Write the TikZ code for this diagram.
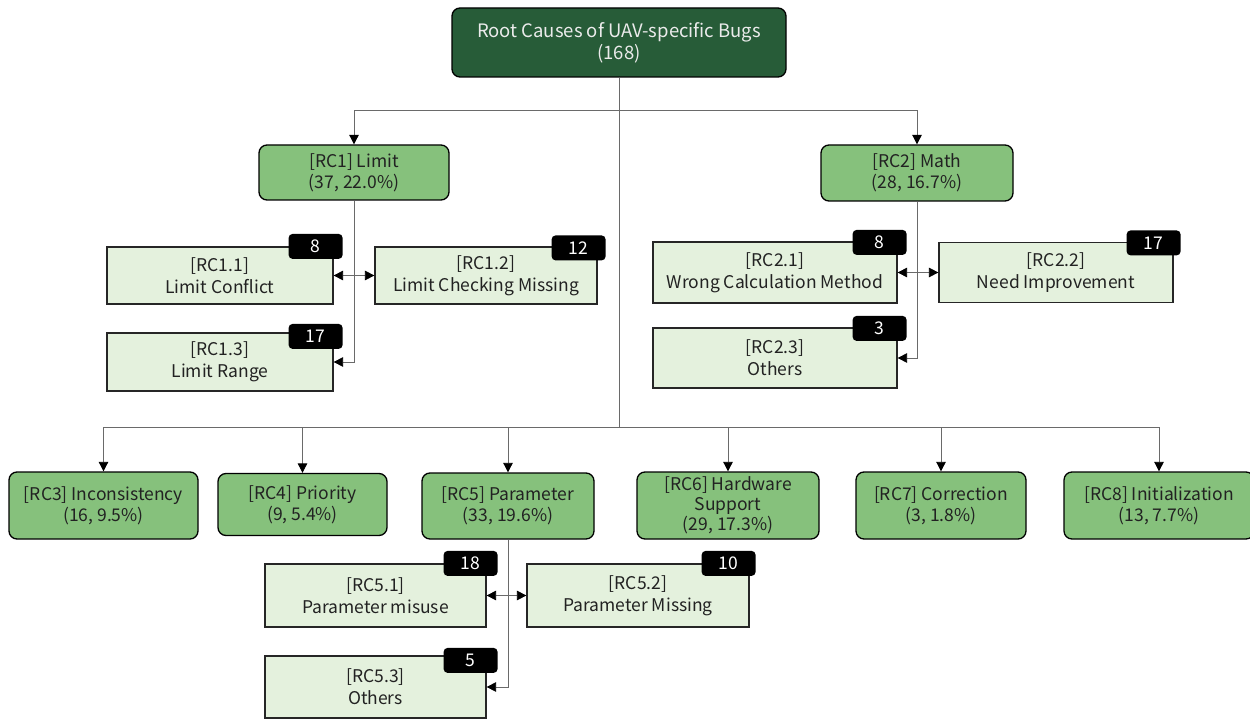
\documentclass[tikz,border=0pt]{standalone}
\usepackage{fontspec}
\setmainfont{Noto Sans CJK SC}
\usetikzlibrary{arrows.meta}
\definecolor{rootgreen}{HTML}{275C38}
\definecolor{midgreen}{HTML}{86C17C}
\definecolor{subgreen}{HTML}{E4F1DD}
\definecolor{linegray}{HTML}{6A6A6A}
\definecolor{txt}{HTML}{222222}
\begin{document}
\begin{tikzpicture}[x=1pt,y=-1pt,
  lbl/.style={font=\fontsize{17.5}{21}\selectfont, align=center, inner sep=0pt},
  rootbox/.style={lbl, font=\fontsize{18.5}{22}\selectfont, draw=black, line width=1.3pt, rounded corners=8pt, fill=rootgreen, text=white!92!black},
  catbox/.style={lbl, draw=black, line width=1.3pt, rounded corners=8pt, fill=midgreen, text=txt},
  subbox/.style={lbl, font=\fontsize{17.5}{22}\selectfont, draw=black!85, line width=1.2pt, fill=subgreen, text=txt},
  badge/.style={lbl, fill=black, rounded corners=4pt, text=white, minimum width=54pt, minimum height=25pt},
  conn/.style={draw=linegray, line width=0.8pt},
  tip/.style={-{Triangle[length=9.5pt,width=9.5pt,color=black]}},
  both/.style={{Triangle[length=9.5pt,width=9.5pt,color=black]}-{Triangle[length=9.5pt,width=9.5pt,color=black]}}
]
\useasboundingbox (0,0) rectangle (1250,719);
% root
\node[rootbox, minimum width=334pt, minimum height=69pt] (root) at (619,42.5) {Root Causes of UAV-specific Bugs\\(168)};
% first level
\node[catbox, minimum width=190pt, minimum height=55pt] (rc1) at (354,172.5) {[RC1] Limit\\(37, 22.0\%)};
\node[catbox, minimum width=192pt, minimum height=56pt] (rc2) at (917,173) {[RC2] Math\\(28, 16.7\%)};
% RC1 children
\node[subbox, minimum width=226pt, minimum height=57pt] (rc11) at (220,275.5) {[RC1.1]\\Limit Conflict};
\node[subbox, minimum width=222pt, minimum height=57pt] (rc12) at (486,275.5) {[RC1.2]\\Limit Checking Missing};
\node[subbox, minimum width=226pt, minimum height=58pt] (rc13) at (220,362) {[RC1.3]\\Limit Range};
% RC2 children
\node[subbox, minimum width=244pt, minimum height=61pt] (rc21) at (775,272.5) {[RC2.1]\\Wrong Calculation Method};
\node[subbox, minimum width=234pt, minimum height=60pt] (rc22) at (1056,272.5) {[RC2.2]\\Need Improvement};
\node[subbox, minimum width=244pt, minimum height=60pt] (rc23) at (775,358) {[RC2.3]\\Others};
% second row
\node[catbox, minimum width=189pt, minimum height=67pt] (rc3) at (103.5,505.5) {[RC3] Inconsistency\\(16, 9.5\%)};
\node[catbox, minimum width=169pt, minimum height=62pt] (rc4) at (302.5,504.5) {[RC4] Priority\\(9, 5.4\%)};
\node[catbox, minimum width=172pt, minimum height=66pt] (rc5) at (508,506) {[RC5] Parameter\\(33, 19.6\%)};
\node[catbox, font=\fontsize{17.5}{20}\selectfont, minimum width=182pt, minimum height=67pt] (rc6) at (728,505.5) {[RC6] Hardware\\Support\\(29, 17.3\%)};
\node[catbox, minimum width=170pt, minimum height=67pt] (rc7) at (941,505.5) {[RC7] Correction\\(3, 1.8\%)};
\node[catbox, minimum width=190pt, minimum height=67pt] (rc8) at (1159,505.5) {[RC8] Initialization\\(13, 7.7\%)};
% RC5 children
\node[subbox, minimum width=221pt, minimum height=63pt] (rc51) at (375.5,595.5) {[RC5.1]\\Parameter misuse};
\node[subbox, minimum width=222pt, minimum height=63pt] (rc52) at (638,595.5) {[RC5.2]\\Parameter Missing};
\node[subbox, minimum width=221pt, minimum height=62pt] (rc53) at (375.5,687) {[RC5.3]\\Others};
% badges
\node[badge] (b11) at ([xshift=-18pt]rc11.north east) {8};
\node[badge] (b12) at ([xshift=-19pt,yshift=-1.5pt]rc12.north east) {12};
\node[badge] (b13) at ([xshift=-18pt,yshift=-4pt]rc13.north east) {17};
\node[badge] (b21) at ([xshift=-18pt,yshift=-1pt]rc21.north east) {8};
\node[badge] (b22) at ([xshift=-20pt,yshift=-1pt]rc22.north east) {17};
\node[badge] (b23) at ([xshift=-18pt,yshift=-1pt]rc23.north east) {3};
\node[badge] (b51) at ([xshift=-16pt]rc51.north east) {18};
\node[badge] (b52) at ([xshift=-21pt]rc52.north east) {10};
\node[badge] (b53) at ([xshift=-16pt,yshift=-5pt]rc53.north east) {5};
% connectors
\coordinate (j1) at (619,110);
\coordinate (j2) at (619,427);
\draw[conn] (root.south) -- (j2);
\draw[conn,tip] (j1) -| (rc1.north);
\draw[conn,tip] (j1) -| (rc2.north);
\foreach \n in {rc3,rc4,rc5,rc6,rc7,rc8}{
  \draw[conn,tip] (j2) -| (\n.north);
}
\draw[conn,tip] (rc1.south) |- (rc13.east);
\draw[conn,both] (rc11.east) -- (rc12.west);
\draw[conn,tip] (rc2.south) |- (rc23.east);
\draw[conn,both] (rc21.east) -- (rc22.west);
\draw[conn,tip] (rc5.south) |- (rc53.east);
\draw[conn,both] (rc51.east) -- (rc52.west);
\end{tikzpicture}
\end{document}
